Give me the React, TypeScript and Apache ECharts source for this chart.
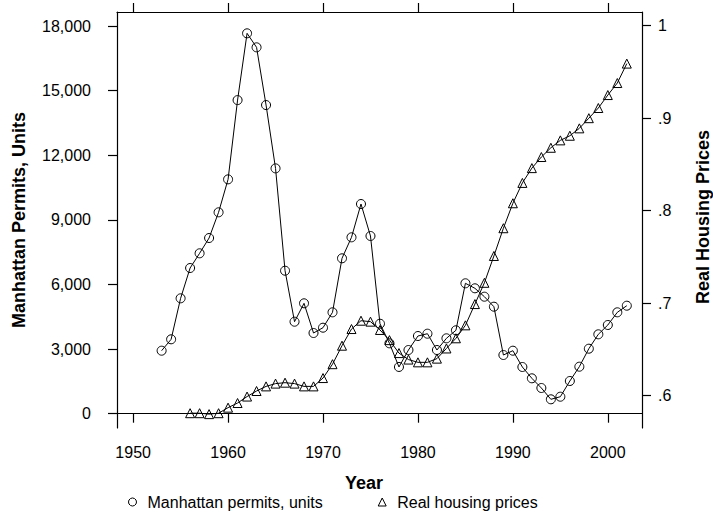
import React, { useEffect, useRef } from "react";
import * as echarts from "echarts";

const FONT = "'Liberation Sans', Arial, Helvetica, sans-serif";

const permitYears = [
  1953, 1954, 1955, 1956, 1957, 1958, 1959, 1960, 1961, 1962, 1963, 1964, 1965, 1966, 1967, 1968, 1969,
  1970, 1971, 1972, 1973, 1974, 1975, 1976, 1977, 1978, 1979, 1980, 1981, 1982, 1983, 1984, 1985, 1986,
  1987, 1988, 1989, 1990, 1991, 1992, 1993, 1994, 1995, 1996, 1997, 1998, 1999, 2000, 2001, 2002,
];
const permitValues = [
  2925, 3454, 5357, 6764, 7447, 8157, 9350, 10880, 14560, 17660, 17010, 14330, 11390, 6639, 4271, 5125, 3746,
  3993, 4707, 7214, 8189, 9735, 8250, 4178, 3268, 2170, 2957, 3607, 3714, 2957, 3500, 3872, 6054, 5822,
  5432, 4968, 2725, 2925, 2168, 1643, 1193, 668, 789, 1518, 2182, 3018, 3686, 4118, 4707, 5014,
];

const priceYears = [
  1956, 1957, 1958, 1959, 1960, 1961, 1962, 1963, 1964, 1965, 1966, 1967, 1968, 1969, 1970, 1971, 1972,
  1973, 1974, 1975, 1976, 1977, 1978, 1979, 1980, 1981, 1982, 1983, 1984, 1985, 1986, 1987, 1988, 1989,
  1990, 1991, 1992, 1993, 1994, 1995, 1996, 1997, 1998, 1999, 2000, 2001, 2002,
];
const priceValues = [
  0.581, 0.581, 0.58, 0.581, 0.587, 0.592, 0.599, 0.605, 0.61, 0.613, 0.614, 0.613, 0.61, 0.61, 0.619, 0.634,
  0.654, 0.672, 0.681, 0.68, 0.671, 0.66, 0.646, 0.639, 0.636, 0.636, 0.64, 0.651, 0.662, 0.676, 0.699, 0.722,
  0.751, 0.781, 0.808, 0.83, 0.846, 0.858, 0.868, 0.876, 0.881, 0.889, 0.9, 0.911, 0.925, 0.938, 0.959,
];

const xTicks = [1950, 1960, 1970, 1980, 1990, 2000];
const leftTicks = [0, 3000, 6000, 9000, 12000, 15000, 18000];
const rightTicks = [0.6, 0.7, 0.8, 0.9, 1];

const SERIES_PERMITS = "Manhattan permits, units";
const SERIES_PRICES = "Real housing prices";

export default function App() {
  const ref = useRef<HTMLDivElement>(null);

  useEffect(() => {
    if (!ref.current) return;
    const chart = echarts.init(ref.current, null, { renderer: "svg" });
    const axisLine = { show: true, lineStyle: { color: "#000", width: 1.2 } };
    const labelStyle = { fontSize: 16, color: "#000", fontFamily: FONT };
    const hollow = { color: "rgba(0,0,0,0)", borderColor: "#000", borderWidth: 1 };

    chart.setOption({
      animation: false,
      backgroundColor: "#fff",
      grid: { left: 117, right: 71, top: 12, bottom: 96 },
      xAxis: [
        {
          type: "value",
          position: "bottom",
          min: 1948.3,
          max: 2003.6,
          axisLine,
          axisTick: { show: true, length: 9, customValues: xTicks, lineStyle: { color: "#000", width: 1.2 } },
          axisLabel: { ...labelStyle, customValues: xTicks, margin: 16, formatter: (v: number) => String(v) },
          splitLine: { show: false },
        },
        {
          type: "value",
          position: "top",
          min: 1948.3,
          max: 2003.6,
          axisLine,
          axisTick: { show: true, length: 9, customValues: xTicks, lineStyle: { color: "#000", width: 1.2 } },
          axisLabel: { show: false },
          splitLine: { show: false },
        },
      ],
      yAxis: [
        {
          type: "value",
          position: "left",
          min: -664,
          max: 18650,
          axisLine,
          axisTick: { show: true, length: 9, customValues: leftTicks, lineStyle: { color: "#000", width: 1.2 } },
          axisLabel: {
            ...labelStyle,
            customValues: leftTicks,
            margin: 26,
            formatter: (v: number) => v.toLocaleString("en-US"),
          },
          splitLine: { show: false },
        },
        {
          type: "value",
          position: "right",
          min: 0.565,
          max: 1.0148,
          axisLine,
          axisTick: { show: true, length: 9, customValues: rightTicks, lineStyle: { color: "#000", width: 1.2 } },
          axisLabel: {
            ...labelStyle,
            customValues: rightTicks,
            margin: 16,
            formatter: (v: number) => (v >= 0.999 ? "1" : "." + Math.round(v * 10)),
          },
          splitLine: { show: false },
        },
      ],
      legend: {
        left: 123,
        top: 489,
        itemWidth: 8,
        itemHeight: 8,
        itemGap: 55,
        textStyle: { fontSize: 16, color: "#000", fontFamily: FONT, padding: [0, 0, 0, 6] },
        data: [
          { name: SERIES_PERMITS, icon: "circle", itemStyle: hollow },
          { name: SERIES_PRICES, icon: "triangle", itemStyle: hollow },
        ],
      },
      graphic: [
        {
          type: "text",
          x: 19,
          y: 220,
          rotation: Math.PI / 2,
          style: {
            text: "Manhattan Permits, Units",
            font: `bold 18px ${FONT}`,
            fill: "#000",
            textAlign: "center",
            textVerticalAlign: "middle",
          },
        },
        {
          type: "text",
          x: 703,
          y: 217,
          rotation: Math.PI / 2,
          style: {
            text: "Real Housing Prices",
            font: `bold 18px ${FONT}`,
            fill: "#000",
            textAlign: "center",
            textVerticalAlign: "middle",
          },
        },
        {
          type: "text",
          x: 364,
          y: 483,
          style: {
            text: "Year",
            font: `bold 18px ${FONT}`,
            fill: "#000",
            textAlign: "center",
            textVerticalAlign: "middle",
          },
        },
      ],
      series: [
        {
          name: SERIES_PERMITS,
          type: "line",
          xAxisIndex: 0,
          yAxisIndex: 0,
          data: permitYears.map((y, i) => [y, permitValues[i]]),
          symbol: "circle",
          symbolSize: 9,
          showAllSymbol: true,
          itemStyle: hollow,
          lineStyle: { color: "#000", width: 1 },
          emphasis: { disabled: true },
        },
        {
          name: SERIES_PRICES,
          type: "line",
          xAxisIndex: 0,
          yAxisIndex: 1,
          data: priceYears.map((y, i) => [y, priceValues[i]]),
          symbol: "triangle",
          symbolSize: 9,
          showAllSymbol: true,
          itemStyle: hollow,
          lineStyle: { color: "#000", width: 1 },
          emphasis: { disabled: true },
        },
      ],
    });
    return () => chart.dispose();
  }, []);

  return (
    <div
      ref={ref}
      style={{ position: "fixed", left: 0, top: 0, width: 713, height: 524, background: "#fff" }}
    />
  );
}
